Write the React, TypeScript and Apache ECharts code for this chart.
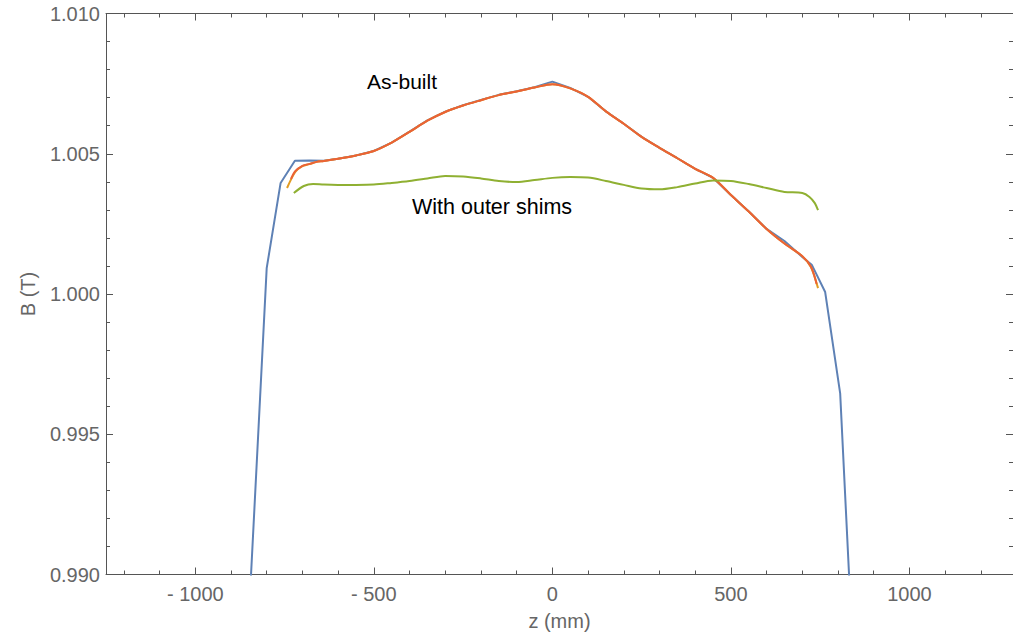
import React, { useEffect, useRef } from "react";
import * as echarts from "echarts";

// As-built measured field (blue)
const zMeasured = [-850, -800, -761, -721, -680, -640, -600, -550, -500, -450, -400, -350, -300, -250, -200, -150, -100, -50, 0, 50, 100, 150, 200, 250, 300, 350, 400, 450, 500, 550, 600, 650, 700, 727, 764, 806, 846];
const bMeasured = [0.98846, 1.00092, 1.00396, 1.00475, 1.00476, 1.00475, 1.00482, 1.00494, 1.0051, 1.0054, 1.00579, 1.00619, 1.0065, 1.00673, 1.00692, 1.0071, 1.00723, 1.00737, 1.00757, 1.00735, 1.00703, 1.00651, 1.00607, 1.0056, 1.00521, 1.00484, 1.00446, 1.00414, 1.00353, 1.00294, 1.00232, 1.00189, 1.00132, 1.00103, 1.00007, 0.99646, 0.98606];

// As-built fit (orange)
const zFitA = [-743, -720, -700, -680, -660, -640, -600, -550, -500, -450, -400, -350, -300, -250, -200, -150, -100, -50, 0, 50, 100, 150, 200, 250, 300, 350, 400, 450, 500, 550, 600, 650, 700, 724, 744];
const bFitA = [1.00378, 1.00435, 1.00456, 1.00463, 1.00471, 1.00474, 1.00482, 1.00494, 1.0051, 1.0054, 1.00578, 1.00618, 1.00649, 1.00672, 1.00691, 1.00709, 1.00722, 1.00736, 1.00748, 1.00733, 1.00703, 1.00651, 1.00607, 1.0056, 1.00521, 1.00484, 1.00446, 1.00414, 1.00353, 1.00294, 1.00232, 1.0018, 1.00135, 1.00096, 1.00021];

// As-built second fit (red-orange)
const zFitB = [-732, -720, -700, -680, -660, -640, -600, -550, -500, -450, -400, -350, -300, -250, -200, -150, -100, -50, 0, 50, 100, 150, 200, 250, 300, 350, 400, 450, 500, 550, 600, 650, 700, 724, 740];
const bFitB = [1.0041, 1.00438, 1.00457, 1.00464, 1.00471, 1.00474, 1.00482, 1.00494, 1.0051, 1.0054, 1.00578, 1.00618, 1.00649, 1.00672, 1.00691, 1.00709, 1.00722, 1.00736, 1.00748, 1.00733, 1.00703, 1.00651, 1.00607, 1.0056, 1.00521, 1.00484, 1.00446, 1.00414, 1.00353, 1.00294, 1.00232, 1.0018, 1.00135, 1.00098, 1.00036];

// With outer shims (green)
const zShims = [-724, -696, -670, -640, -600, -550, -500, -450, -400, -350, -300, -250, -200, -150, -100, -50, 0, 50, 100, 150, 200, 250, 300, 350, 400, 450, 500, 550, 600, 650, 700, 720, 735, 744];
const bShims = [1.0036, 1.00385, 1.00392, 1.0039, 1.00389, 1.00389, 1.0039, 1.00396, 1.00403, 1.00412, 1.00421, 1.00419, 1.00412, 1.00403, 1.00399, 1.00406, 1.00414, 1.00417, 1.00415, 1.00403, 1.00389, 1.00376, 1.00373, 1.00381, 1.00394, 1.00405, 1.00403, 1.00392, 1.00378, 1.00364, 1.0036, 1.00346, 1.00324, 1.00299];

const xMajorTicks = [-1000, -500, 0, 500, 1000];
const xMinorTicks = [-1200, -1100, -900, -800, -700, -600, -400, -300, -200, -100, 100, 200, 300, 400, 600, 700, 800, 900, 1100, 1200];
const yMajorTicks = [0.99, 0.995, 1.0, 1.005, 1.01];
const yMinorTicks = [0.991, 0.992, 0.993, 0.994, 0.996, 0.997, 0.998, 0.999, 1.001, 1.002, 1.003, 1.004, 1.006, 1.007, 1.008, 1.009];

const labelAsBuilt = "As-built";
const labelShims = "With outer shims";

const FONT = 'Arial, "Liberation Sans", sans-serif';
const FRAME = "#555555";
const TEXT = "#666666";

function pairs(z: number[], b: number[]) {
  return z.map((v, i) => [v, b[i]]);
}

export default function App() {
  const ref = useRef<HTMLDivElement>(null);
  useEffect(() => {
    if (!ref.current) return;
    const chart = echarts.init(ref.current, undefined, { renderer: "svg" });
    const xBase = { type: "value", min: -1250, max: 1290, splitLine: { show: false } };
    const yBase = { type: "value", min: 0.99, max: 1.01, splitLine: { show: false } };
    const lineOn = { show: true, onZero: false, lineStyle: { color: FRAME, width: 1 } };
    const lineOff = { show: false, onZero: false };
    const xAxis = [
      {
        ...xBase,
        position: "bottom",
        axisLine: lineOn,
        axisTick: { show: true, inside: true, length: 7, customValues: xMajorTicks, lineStyle: { color: FRAME } },
        axisLabel: {
          show: true,
          customValues: xMajorTicks,
          margin: 9,
          color: TEXT,
          fontSize: 20,
          fontFamily: FONT,
          formatter: (v: number) => (v < 0 ? "- " + Math.abs(v) : String(v)),
        },
        name: "z (mm)",
        nameLocation: "middle",
        nameGap: 36,
        nameTextStyle: { color: TEXT, fontSize: 20, fontFamily: FONT },
      },
      {
        ...xBase,
        position: "bottom",
        axisLine: lineOff,
        axisTick: { show: true, inside: true, length: 4, customValues: xMinorTicks, lineStyle: { color: FRAME } },
        axisLabel: { show: false },
      },
      {
        ...xBase,
        position: "top",
        axisLine: lineOn,
        axisTick: { show: true, inside: true, length: 7, customValues: xMajorTicks, lineStyle: { color: FRAME } },
        axisLabel: { show: false },
      },
      {
        ...xBase,
        position: "top",
        axisLine: lineOff,
        axisTick: { show: true, inside: true, length: 4, customValues: xMinorTicks, lineStyle: { color: FRAME } },
        axisLabel: { show: false },
      },
    ];
    const yAxis = [
      {
        ...yBase,
        position: "left",
        axisLine: lineOn,
        axisTick: { show: true, inside: true, length: 7, customValues: yMajorTicks, lineStyle: { color: FRAME } },
        axisLabel: {
          show: true,
          customValues: yMajorTicks,
          margin: 6,
          color: TEXT,
          fontSize: 20,
          fontFamily: FONT,
          formatter: (v: number) => v.toFixed(3),
        },
        name: "B (T)",
        nameLocation: "middle",
        nameGap: 68,
        nameRotate: 90,
        nameTextStyle: { color: TEXT, fontSize: 20, fontFamily: FONT },
      },
      {
        ...yBase,
        position: "left",
        axisLine: lineOff,
        axisTick: { show: true, inside: true, length: 4, customValues: yMinorTicks, lineStyle: { color: FRAME } },
        axisLabel: { show: false },
      },
      {
        ...yBase,
        position: "right",
        axisLine: lineOn,
        axisTick: { show: true, inside: true, length: 7, customValues: yMajorTicks, lineStyle: { color: FRAME } },
        axisLabel: { show: false },
      },
      {
        ...yBase,
        position: "right",
        axisLine: lineOff,
        axisTick: { show: true, inside: true, length: 4, customValues: yMinorTicks, lineStyle: { color: FRAME } },
        axisLabel: { show: false },
      },
    ];
    const line = (name: string, data: number[][], color: string, smooth: number | boolean, z: number) => ({
      type: "line",
      name,
      data,
      xAxisIndex: 0,
      yAxisIndex: 0,
      showSymbol: false,
      symbol: "none",
      smooth,
      clip: true,
      z,
      lineStyle: { color, width: 2 },
    });
    chart.setOption({
      animation: false,
      backgroundColor: "#ffffff",
      grid: { left: 106, right: 0, top: 13.5, bottom: 61.5, containLabel: false },
      xAxis,
      yAxis,
      series: [
        line("As-built measured", pairs(zMeasured, bMeasured), "#5E81B5", false, 2),
        line("As-built fit", pairs(zFitA, bFitA), "#E19C24", 0.3, 3),
        line("As-built fit 2", pairs(zFitB, bFitB), "#EB6235", 0.3, 4),
        line("With outer shims", pairs(zShims, bShims), "#8FB032", 0.3, 5),
      ],
      graphic: [
        {
          type: "text",
          left: 367,
          top: 71,
          style: { text: labelAsBuilt, fill: "#000", fontSize: 21, fontFamily: FONT },
        },
        {
          type: "text",
          left: 412,
          top: 196,
          style: { text: labelShims, fill: "#000", fontSize: 21.5, fontFamily: FONT },
        },
      ],
    });
    return () => chart.dispose();
  }, []);
  return (
    <div
      ref={ref}
      style={{ position: "fixed", left: 0, top: 0, width: 1013, height: 636, background: "#fff" }}
    />
  );
}
